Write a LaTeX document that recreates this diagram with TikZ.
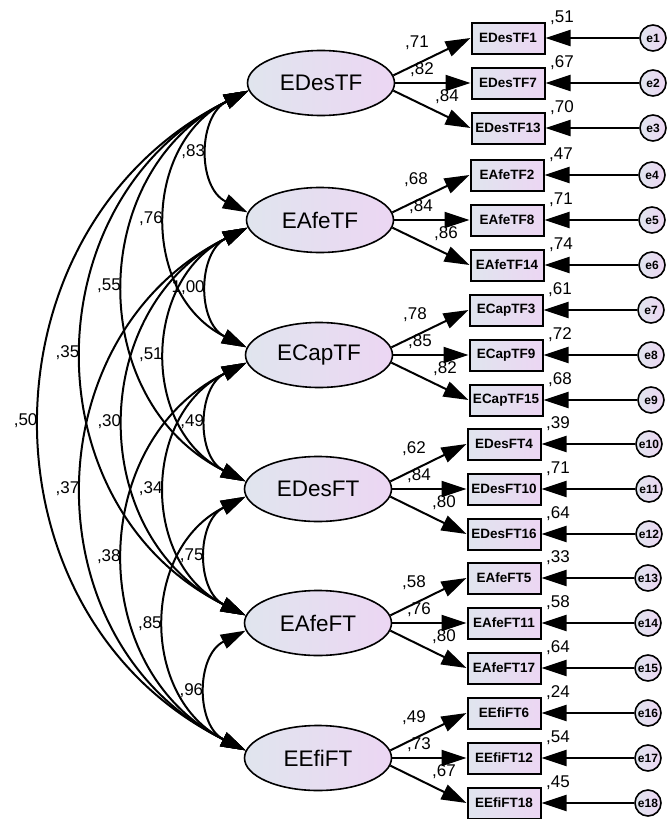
\documentclass[tikz,border=0pt]{standalone}
\usepackage{fontspec}
\setmainfont{Liberation Sans}
\usetikzlibrary{arrows.meta,shapes.geometric}
\definecolor{shadeL}{RGB}{224,229,238}
\definecolor{shadeR}{RGB}{236,214,243}
\tikzset{
	latent/.style={ellipse, draw, line width=1.6pt, left color=shadeL, right color=shadeR, minimum width=147pt, minimum height=65pt, inner sep=0pt, font=\fontsize{22.5}{24}\selectfont},
	indicator/.style={rectangle, draw, line width=2pt, left color=shadeL, right color=shadeR, minimum width=73pt, minimum height=31pt, inner sep=0pt, font=\bfseries\fontsize{13.5}{14}\selectfont},
	err/.style={circle, draw, line width=1.6pt, left color=shadeL, right color=shadeR, minimum size=26pt, inner sep=0pt, font=\bfseries\fontsize{12}{13}\selectfont},
	load/.style={line width=2pt, -{Triangle[length=25pt,width=16pt]}},
	cov/.style={line width=2pt, {Triangle[length=25pt,width=15pt]}-{Triangle[length=25pt,width=15pt]}},
	val/.style={inner sep=0pt, font=\fontsize{17}{18}\selectfont},
	cval/.style={val, pos=0.5, anchor=east, xshift=-4pt},
}

\begin{document}
\begin{tikzpicture}[x=1pt,y=-1pt]
		%%%%% START %%%%%
		\useasboundingbox (0,0) rectangle (667,819);
		
		\node[latent] (EDesTF) at (321,83) {EDesTF};
		\node[latent] (EAfeTF) at (320,220) {EAfeTF};
		\node[latent] (ECapTF) at (319,355) {ECapTF};
		\node[latent] (EDesFT) at (318,489) {EDesFT};
		\node[latent] (EAfeFT) at (318,623) {EAfeFT};
		\node[latent] (EEfiFT) at (318,758) {EEfiFT};
		
		\node[indicator] (EDesTF1) at (508,38) {EDesTF1};
		\node[indicator] (EDesTF7) at (508,83) {EDesTF7};
		\node[indicator] (EDesTF13) at (508,128) {EDesTF13};
		\node[indicator] (EAfeTF2) at (507,175) {EAfeTF2};
		\node[indicator] (EAfeTF8) at (507,220) {EAfeTF8};
		\node[indicator] (EAfeTF14) at (507,265) {EAfeTF14};
		\node[indicator] (ECapTF3) at (506,310) {ECapTF3};
		\node[indicator] (ECapTF9) at (506,355) {ECapTF9};
		\node[indicator] (ECapTF15) at (506,400) {ECapTF15};
		\node[indicator] (EDesFT4) at (504,444) {EDesFT4};
		\node[indicator] (EDesFT10) at (504,489) {EDesFT10};
		\node[indicator] (EDesFT16) at (504,534) {EDesFT16};
		\node[indicator] (EAfeFT5) at (504,578) {EAfeFT5};
		\node[indicator] (EAfeFT11) at (504,623) {EAfeFT11};
		\node[indicator] (EAfeFT17) at (504,668) {EAfeFT17};
		\node[indicator] (EEfiFT6) at (504,713) {EEfiFT6};
		\node[indicator] (EEfiFT12) at (504,758) {EEfiFT12};
		\node[indicator] (EEfiFT18) at (504,803) {EEfiFT18};
		
		\node[err] (e1) at (653,38) {e1};
		\node[err] (e2) at (653,83) {e2};
		\node[err] (e3) at (653,128) {e3};
		\node[err] (e4) at (652,175) {e4};
		\node[err] (e5) at (652,220) {e5};
		\node[err] (e6) at (652,265) {e6};
		\node[err] (e7) at (651,310) {e7};
		\node[err] (e8) at (651,355) {e8};
		\node[err] (e9) at (651,400) {e9};
		\node[err] (e10) at (649,444) {e10};
		\node[err] (e11) at (649,489) {e11};
		\node[err] (e12) at (649,534) {e12};
		\node[err] (e13) at (648,578) {e13};
		\node[err] (e14) at (648,623) {e14};
		\node[err] (e15) at (648,668) {e15};
		\node[err] (e16) at (648,713) {e16};
		\node[err] (e17) at (648,758) {e17};
		\node[err] (e18) at (648,803) {e18};
		
		% loadings
		\draw[load] (EDesTF.6) -- (EDesTF1.west);
		\draw[load] (EDesTF.east) -- (EDesTF7.west);
		\draw[load] (EDesTF.-6) -- (EDesTF13.west);
		\draw[load] (EAfeTF.6) -- (EAfeTF2.west);
		\draw[load] (EAfeTF.east) -- (EAfeTF8.west);
		\draw[load] (EAfeTF.-6) -- (EAfeTF14.west);
		\draw[load] (ECapTF.6) -- (ECapTF3.west);
		\draw[load] (ECapTF.east) -- (ECapTF9.west);
		\draw[load] (ECapTF.-6) -- (ECapTF15.west);
		\draw[load] (EDesFT.6) -- (EDesFT4.west);
		\draw[load] (EDesFT.east) -- (EDesFT10.west);
		\draw[load] (EDesFT.-6) -- (EDesFT16.west);
		\draw[load] (EAfeFT.6) -- (EAfeFT5.west);
		\draw[load] (EAfeFT.east) -- (EAfeFT11.west);
		\draw[load] (EAfeFT.-6) -- (EAfeFT17.west);
		\draw[load] (EEfiFT.6) -- (EEfiFT6.west);
		\draw[load] (EEfiFT.east) -- (EEfiFT12.west);
		\draw[load] (EEfiFT.-6) -- (EEfiFT18.west);
		
		% errors
		\draw[load] (e1) -- (EDesTF1);
		\draw[load] (e2) -- (EDesTF7);
		\draw[load] (e3) -- (EDesTF13);
		\draw[load] (e4) -- (EAfeTF2);
		\draw[load] (e5) -- (EAfeTF8);
		\draw[load] (e6) -- (EAfeTF14);
		\draw[load] (e7) -- (ECapTF3);
		\draw[load] (e8) -- (ECapTF9);
		\draw[load] (e9) -- (ECapTF15);
		\draw[load] (e10) -- (EDesFT4);
		\draw[load] (e11) -- (EDesFT10);
		\draw[load] (e12) -- (EDesFT16);
		\draw[load] (e13) -- (EAfeFT5);
		\draw[load] (e14) -- (EAfeFT11);
		\draw[load] (e15) -- (EAfeFT17);
		\draw[load] (e16) -- (EEfiFT6);
		\draw[load] (e17) -- (EEfiFT12);
		\draw[load] (e18) -- (EEfiFT18);
		
		\node[val] (l1) at (417,43) {,71};
		\node[val] (l7) at (422,70) {,82};
		\node[val] (l13) at (447,97) {,84};
		\node[val] (l2) at (416,180) {,68};
		\node[val] (l8) at (421,207) {,84};
		\node[val] (l14) at (446,234) {,86};
		\node[val] (l3) at (415,315) {,78};
		\node[val] (l9) at (420,342) {,85};
		\node[val] (l15) at (445,369) {,82};
		\node[val] (l4) at (414,449) {,62};
		\node[val] (l10) at (419,476) {,84};
		\node[val] (l16) at (444,503) {,80};
		\node[val] (l5) at (414,583) {,58};
		\node[val] (l11) at (419,610) {,76};
		\node[val] (l17) at (444,637) {,80};
		\node[val] (l6) at (414,718) {,49};
		\node[val] (l12) at (419,745) {,73};
		\node[val] (l18) at (444,772) {,67};
		
		\node[val] (r1) at (562,18) {,51};
		\node[val] (r7) at (562,63) {,67};
		\node[val] (r13) at (562,108) {,70};
		\node[val] (r2) at (561,155) {,47};
		\node[val] (r8) at (561,200) {,71};
		\node[val] (r14) at (561,245) {,74};
		\node[val] (r3) at (560,290) {,61};
		\node[val] (r9) at (560,335) {,72};
		\node[val] (r15) at (560,380) {,68};
		\node[val] (r4) at (558,424) {,39};
		\node[val] (r10) at (558,469) {,71};
		\node[val] (r16) at (558,514) {,64};
		\node[val] (r5) at (558,558) {,33};
		\node[val] (r11) at (558,603) {,58};
		\node[val] (r17) at (558,648) {,64};
		\node[val] (r6) at (558,693) {,24};
		\node[val] (r12) at (558,738) {,54};
		\node[val] (r18) at (558,783) {,45};
		
		% covariances
		\draw[cov] (EDesTF.186) .. controls +(-50.8,25.2) and +(-50.8,-25.2) .. (EAfeTF.174) node[cval] (c12) {,83};
		\draw[cov] (EDesTF.186) .. controls +(-106.6,52.9) and +(-106.6,-52.9) .. (ECapTF.174) node[cval] (c13) {,76};
		\draw[cov] (EDesTF.186) .. controls +(-161.9,80.4) and +(-161.9,-80.4) .. (EDesFT.174) node[cval] (c14) {,55};
		\draw[cov] (EDesTF.186) .. controls +(-217.2,107.8) and +(-217.2,-107.8) .. (EAfeFT.174) node[cval] (c15) {,35};
		\draw[cov] (EDesTF.186) .. controls +(-273,135.5) and +(-273,-135.5) .. (EEfiFT.174) node[cval] (c16) {,50};
		\draw[cov] (EAfeTF.186) .. controls +(-50,24.8) and +(-50,-24.8) .. (ECapTF.174) node[cval] (c23) {1,00};
		\draw[cov] (EAfeTF.186) .. controls +(-105.3,52.3) and +(-105.3,-52.3) .. (EDesFT.174) node[cval] (c24) {,51};
		\draw[cov] (EAfeTF.186) .. controls +(-160.7,79.7) and +(-160.7,-79.7) .. (EAfeFT.174) node[cval] (c25) {,30};
		\draw[cov] (EAfeTF.186) .. controls +(-216.4,107.4) and +(-216.4,-107.4) .. (EEfiFT.174) node[cval] (c26) {,37};
		\draw[cov] (ECapTF.186) .. controls +(-49.6,24.6) and +(-49.6,-24.6) .. (EDesFT.174) node[cval] (c34) {,49};
		\draw[cov] (ECapTF.186) .. controls +(-104.9,52.1) and +(-104.9,-52.1) .. (EAfeFT.174) node[cval] (c35) {,34};
		\draw[cov] (ECapTF.186) .. controls +(-160.7,79.7) and +(-160.7,-79.7) .. (EEfiFT.174) node[cval] (c36) {,38};
		\draw[cov] (EDesFT.186) .. controls +(-49.6,24.6) and +(-49.6,-24.6) .. (EAfeFT.174) node[cval] (c45) {,75};
		\draw[cov] (EDesFT.186) .. controls +(-105.3,52.3) and +(-105.3,-52.3) .. (EEfiFT.174) node[cval] (c46) {,85};
		\draw[cov] (EAfeFT.186) .. controls +(-50,24.8) and +(-50,-24.8) .. (EEfiFT.174) node[cval] (c56) {,96};
		%%%%% END %%%%%
	\end{tikzpicture}
\end{document}
